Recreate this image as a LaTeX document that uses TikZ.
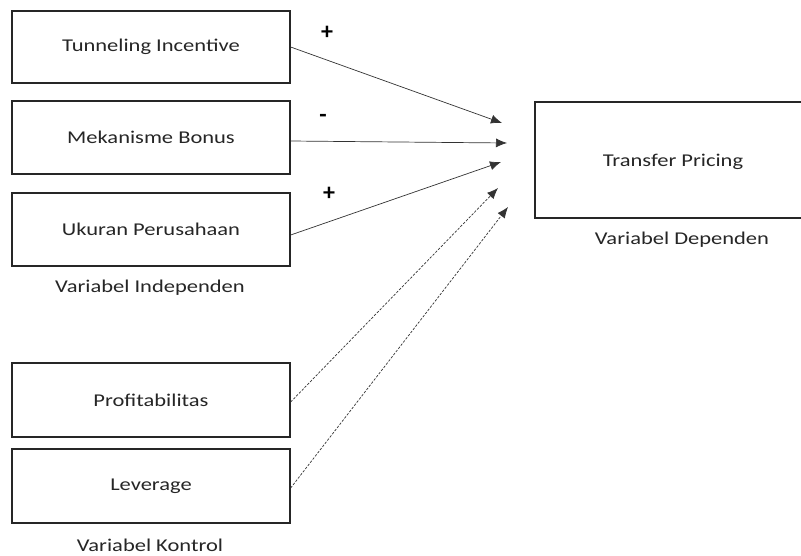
\documentclass[tikz,border=0pt]{standalone}
\usepackage{fontspec}
\setmainfont{Carlito}
\usetikzlibrary{arrows.meta}
\newcommand{\wide}[1]{\scalebox{1.25}[1]{#1}}
\begin{document}
\begin{tikzpicture}[x=1pt,y=-1pt,
  vbox/.style={draw=black!85,line width=1.3pt,inner sep=0pt},
  lbl/.style={font=\fontsize{18}{20}\selectfont,text=black!85},
  sign/.style={font=\bfseries\fontsize{24}{26}\selectfont},
  conn/.style={line width=0.7pt,draw=black!80,-{Latex[length=11pt,width=9pt]}},
  dconn/.style={conn,dash pattern=on 2.5pt off 1.5pt}]
\useasboundingbox (0,0) rectangle (801,555);
\path[fill=white] (0,0) rectangle (801,555);
\node[vbox,minimum width=278pt,minimum height=72pt] (ti) at (151,47) {};
\node[lbl] at (ti.center) {\wide{Tunneling Incentive}};
\node[vbox,minimum width=278pt,minimum height=73pt] (mb) at (151,137.5) {};
\node[lbl] at (mb.center) {\wide{Mekanisme Bonus}};
\node[vbox,minimum width=278pt,minimum height=73pt] (up) at (151,229.5) {};
\node[lbl] at (up.center) {\wide{Ukuran Perusahaan}};
\node[lbl] (vi) at (150,288) {\wide{Variabel Independen}};
\node[vbox,minimum width=278pt,minimum height=74pt] (pr) at (151,400) {};
\node[lbl] at (pr.center) {\wide{Profitabilitas}};
\node[vbox,minimum width=278pt,minimum height=74pt] (lv) at (151,486) {};
\node[lbl] at (lv.center) {\wide{Leverage}};
\node[lbl,inner sep=0pt,anchor=base] (vk) at (150,551) {\wide{Variabel Kontrol}};
\node[vbox,minimum width=270pt,minimum height=116pt] (tp) at (670,160) {};
\node[lbl] at (673,162) {\wide{Transfer Pricing}};
\node[lbl] (vd) at (682,240) {\wide{Variabel Dependen}};
\coordinate (e1) at (502,123);
\coordinate (e2) at (507,143);
\coordinate (e3) at (501,162);
\coordinate (e4) at (498,188);
\coordinate (e5) at (508,207);
\draw[conn] (ti.east |- 0,47) -- (e1);
\draw[conn] (mb.east |- 0,141) -- (e2);
\draw[conn] (up.east |- 0,235) -- (e3);
\draw[dconn] (pr.east |- 0,402) -- (e4);
\draw[dconn] (lv.east |- 0,488) -- (e5);
\node[sign] (s1) at (327,33) {+};
\node[sign] (s2) at (323,118) {-};
\node[sign] (s3) at (329,194) {+};
\end{tikzpicture}
\end{document}
